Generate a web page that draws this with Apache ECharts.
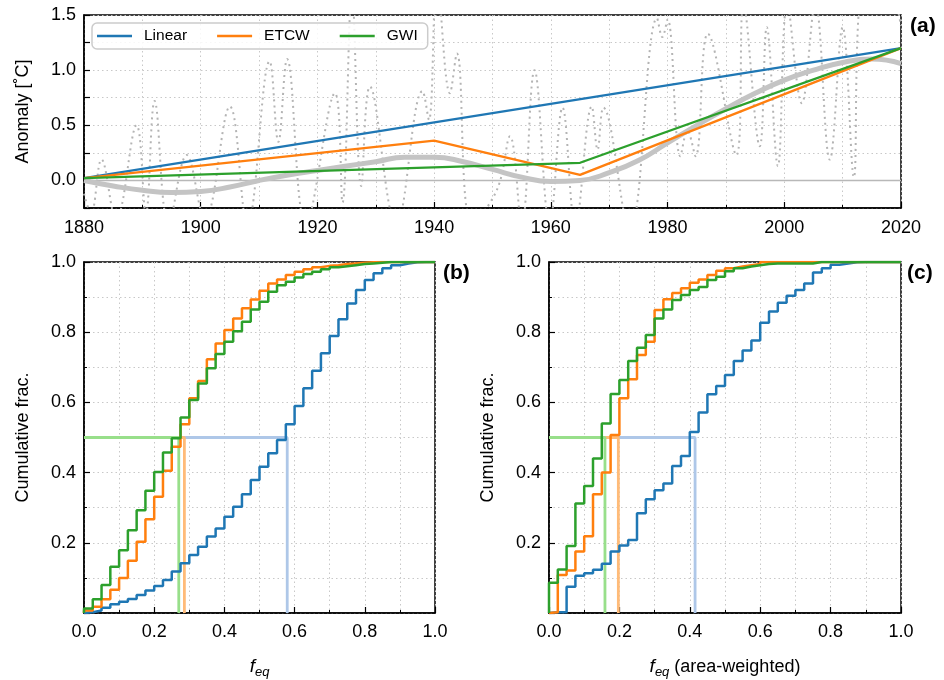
<!DOCTYPE html>
<html>
<head>
<meta charset="utf-8">
<script src="https://cdn.jsdelivr.net/npm/echarts@6/dist/echarts.min.js"></script>
<style>
  html, body { margin: 0; padding: 0; background: #fff; }
  #chart { width: 944px; height: 680px; }
</style>
</head>
<body>
<div id="chart"></div>
<script>
// ---- panel (a): anomaly time series ----
var linearYears = [1880, 2020]
var linearVals = [0.02, 1.2]
var etcwYears = [1880, 1940, 1965, 2020]
var etcwVals = [0.02, 0.36, 0.05, 1.2]
var gwiYears = [1880, 1965, 2020]
var gwiVals = [0.02, 0.16, 1.2]

// thick grey smoothed curve
var smoothYears = [1880, 1885, 1890, 1895, 1900, 1905, 1910, 1915, 1920, 1925, 1930, 1935, 1940, 1945, 1950,
  1955, 1960, 1965, 1970, 1975, 1980, 1985, 1990, 1995, 2000, 2005, 2010, 2015, 2020]
var smoothVals = [0.0, -0.05, -0.09, -0.11, -0.1, -0.06, 0.0, 0.05, 0.09, 0.13, 0.17, 0.21, 0.21, 0.17, 0.1,
  0.03, -0.01, 0.0, 0.07, 0.18, 0.34, 0.5, 0.65, 0.79, 0.91, 1.0, 1.07, 1.1, 1.06]

// dotted grey oscillating series (peaks and troughs)
var obsYears = [1880, 1881.2, 1883.0, 1885.5, 1889.0, 1890.6, 1892.1, 1894.5, 1897.6, 1900.7,
  1905.0, 1908.0, 1911.8, 1913.3, 1914.8, 1918.0, 1923.0, 1924.3, 1925.9, 1927.5,
  1929.0, 1933.5, 1938.0, 1939.1, 1940.5, 1942.7, 1943.9, 1946.5, 1950.8, 1953.0,
  1955.0, 1957.2, 1959.8, 1962.0, 1964.2, 1967.0, 1968.0, 1969.0, 1973.5, 1978.2,
  1979.1, 1980.0, 1982.2, 1983.4, 1984.8, 1986.9, 1991.8, 1993.0, 1995.8, 1997.0,
  1998.9, 2000.5, 2003.0, 2005.3, 2007.8, 2010.0, 2011.9, 2013.0, 2017.0, 2020.0]
var obsVals = [-0.12, -0.3, 0.19, -0.35, 0.5, -0.3, 0.72, -0.4, 0.23, -0.35,
  0.67, -0.4, 1.08, 0.35, 1.1, -0.4, 0.79, -0.2, 1.7, -0.05,
  0.85, -0.4, 0.81, 0.55, 1.8, 0.79, 1.15, -0.4, -0.08, 0.4,
  -0.4, 1.0, -0.4, 0.66, -0.4, 0.67, 0.28, 0.66, -0.45, 1.47,
  1.3, 1.46, 0.22, 0.45, 0.22, 1.33, 0.23, 1.6, 0.31, 1.39,
  0.13, 1.6, 0.7, 1.6, 0.19, 1.39, 0.03, 1.7, 1.8, 1.4]

// ---- panels (b) and (c): cumulative histograms, bins of 0.025 ----
var binEdges = [0, 0.025, 0.05, 0.075, 0.1, 0.125, 0.15, 0.175, 0.2, 0.225,
  0.25, 0.275, 0.3, 0.325, 0.35, 0.375, 0.4, 0.425, 0.45, 0.475,
  0.5, 0.525, 0.55, 0.575, 0.6, 0.625, 0.65, 0.675, 0.7, 0.725,
  0.75, 0.775, 0.8, 0.825, 0.85, 0.875, 0.9, 0.925, 0.95, 0.975, 1.0]

var cdfB_linear = [0.002, 0.007, 0.015, 0.025, 0.032, 0.04, 0.051, 0.064, 0.077, 0.094,
  0.118, 0.142, 0.165, 0.189, 0.218, 0.241, 0.274, 0.303, 0.338, 0.379,
  0.417, 0.455, 0.493, 0.538, 0.59, 0.64, 0.69, 0.74, 0.789, 0.837,
  0.882, 0.92, 0.949, 0.968, 0.982, 0.991, 0.996, 0.999, 1.0, 1.0]
var cdfB_etcw = [0.007, 0.018, 0.039, 0.066, 0.1, 0.149, 0.203, 0.267, 0.331, 0.405,
  0.474, 0.538, 0.612, 0.661, 0.723, 0.768, 0.806, 0.839, 0.868, 0.893,
  0.918, 0.939, 0.95, 0.963, 0.972, 0.979, 0.985, 0.989, 0.991, 0.994,
  0.996, 0.998, 0.999, 1.0, 1.0, 1.0, 1.0, 1.0, 1.0, 1.0]
var cdfB_gwi = [0.013, 0.039, 0.08, 0.132, 0.179, 0.236, 0.293, 0.348, 0.402, 0.457,
  0.498, 0.557, 0.607, 0.654, 0.697, 0.738, 0.773, 0.803, 0.83, 0.865,
  0.887, 0.915, 0.934, 0.944, 0.956, 0.966, 0.972, 0.979, 0.985, 0.988,
  0.991, 0.994, 0.996, 0.998, 1.0, 1.0, 1.0, 1.0, 1.0, 1.0]

var cdfC_linear = [0.002, 0.002, 0.075, 0.106, 0.113, 0.123, 0.14, 0.175, 0.192, 0.208,
  0.284, 0.324, 0.35, 0.369, 0.419, 0.447, 0.516, 0.571, 0.623, 0.647,
  0.678, 0.718, 0.748, 0.776, 0.827, 0.859, 0.884, 0.904, 0.92, 0.939,
  0.97, 0.982, 0.992, 0.996, 0.999, 1.0, 1.0, 1.0, 1.0, 1.0]
var cdfC_etcw = [0.002, 0.108, 0.121, 0.175, 0.219, 0.338, 0.4, 0.507, 0.612, 0.666,
  0.735, 0.773, 0.863, 0.894, 0.912, 0.925, 0.941, 0.95, 0.963, 0.975,
  0.982, 0.987, 0.991, 0.994, 1.0, 1.0, 1.0, 1.0, 1.0, 1.0,
  1.0, 1.0, 1.0, 1.0, 1.0, 1.0, 1.0, 1.0, 1.0, 1.0]
var cdfC_gwi = [0.086, 0.124, 0.191, 0.312, 0.362, 0.44, 0.54, 0.624, 0.664, 0.718,
  0.756, 0.792, 0.839, 0.865, 0.892, 0.906, 0.92, 0.929, 0.949, 0.958,
  0.974, 0.982, 0.987, 0.991, 0.994, 0.996, 0.996, 0.996, 0.996, 0.996,
  1.0, 1.0, 1.0, 1.0, 1.0, 1.0, 1.0, 1.0, 1.0, 1.0]

// medians (Linear, ETCW, GWI)
var medianB = [0.579, 0.286, 0.27]
var medianC = [0.415, 0.197, 0.159]

var seriesNames = ['Linear', 'ETCW', 'GWI']
var colors = ['#1f77b4', '#ff7f0e', '#2ca02c']
var lightColors = ['#aec7e8', '#ffbb78', '#98df8a']

var FONT = 'Liberation Sans, Arial, Helvetica, sans-serif'
var FS = 18

function pairs(xs, ys) {
  var out = []
  for (var i = 0; i < xs.length && i < ys.length; i++) out.push([xs[i], ys[i]])
  return out
}

function stepData(cdf) {
  var out = [[0, 0]]
  for (var i = 0; i < cdf.length; i++) out.push([binEdges[i], cdf[i]])
  out.push([binEdges[binEdges.length - 1], cdf[cdf.length - 1]])
  return out
}

var gridLine = { show: true, lineStyle: { color: '#c8c8c8', width: 1, type: [1.5, 3] } }

function valueAxis(o) {
  return {
    type: 'value',
    gridIndex: o.grid,
    min: o.min,
    max: o.max,
    interval: o.interval,
    position: o.position,
    axisLine: { show: true, onZero: false, lineStyle: { color: '#000', width: 1.5 } },
    axisTick: { show: true, inside: true, length: 6, lineStyle: { color: '#000', width: 1.2 } },
    minorTick: { show: !!o.minor, splitNumber: o.minor || 5, length: 3, lineStyle: { color: '#000', width: 1 } },
    splitLine: gridLine,
    minorSplitLine: { show: !!o.minor, lineStyle: { color: '#c8c8c8', width: 1, type: [1.5, 3] } },
    axisLabel: {
      color: '#000', fontSize: FS, fontFamily: FONT, margin: o.margin,
      formatter: o.formatter
    },
    name: o.name,
    nameLocation: 'middle',
    nameGap: o.nameGap,
    nameTextStyle: o.nameStyle || { color: '#000', fontSize: FS, fontFamily: FONT }
  }
}

var fmt1 = function (v) { return v.toFixed(1) }
var fmtNoZero = function (v) { return v === 0 ? '' : v.toFixed(1) }

var option = {
  animation: false,
  backgroundColor: '#fff',
  textStyle: { fontFamily: FONT },
  grid: [
    { left: 84, top: 15, width: 817, height: 193, show: true, borderColor: '#000', borderWidth: 1.5, outerBoundsMode: 'none' },
    { left: 84, top: 262, width: 351, height: 351, show: true, borderColor: '#000', borderWidth: 1.5, outerBoundsMode: 'none' },
    { left: 549, top: 262, width: 352, height: 351, show: true, borderColor: '#000', borderWidth: 1.5, outerBoundsMode: 'none' }
  ],
  legend: {
    left: 92, top: 23,
    padding: [5, 10, 5, 5],
    itemWidth: 35, itemHeight: 2.5, itemGap: 30,
    borderColor: '#cccccc', borderWidth: 1.5, borderRadius: 5,
    backgroundColor: 'rgba(255,255,255,0.85)',
    textStyle: { color: '#000', fontSize: 15.5, fontFamily: FONT, padding: [0, 0, 0, 7] },
    data: seriesNames.map(function (n) { return { name: n, icon: 'rect' } }),
    selectedMode: false
  },
  xAxis: [
    valueAxis({ grid: 0, min: 1880, max: 2020, interval: 20, minor: 2, position: 'bottom', margin: 11,
      formatter: function (v) { return String(v) } }),
    valueAxis({ grid: 1, min: 0, max: 1, interval: 0.2, minor: 2, position: 'bottom', margin: 10,
      formatter: fmt1,
      name: '{i|f}{s|eq}', nameGap: 42,
      nameStyle: { color: '#000', fontFamily: FONT, rich: {
        i: { fontSize: 19, fontStyle: 'italic', fontFamily: FONT, color: '#000' },
        s: { fontSize: 13, fontStyle: 'italic', fontFamily: FONT, color: '#000', padding: [11, 0, 0, 0] }
      } } }),
    valueAxis({ grid: 2, min: 0, max: 1, interval: 0.2, minor: 2, position: 'bottom', margin: 10,
      formatter: fmt1,
      name: '{i|f}{s|eq}{n| (area-weighted)}', nameGap: 42,
      nameStyle: { color: '#000', fontFamily: FONT, rich: {
        i: { fontSize: 19, fontStyle: 'italic', fontFamily: FONT, color: '#000' },
        s: { fontSize: 13, fontStyle: 'italic', fontFamily: FONT, color: '#000', padding: [11, 0, 0, 0] },
        n: { fontSize: FS, fontFamily: FONT, color: '#000' }
      } } })
  ],
  yAxis: [
    valueAxis({ grid: 0, min: -0.25, max: 1.5, interval: 0.25, position: 'left', margin: 8,
      formatter: function (v) {
        var h = v * 2
        return (v >= 0 && Math.abs(h - Math.round(h)) < 1e-6) ? v.toFixed(1) : ''
      },
      name: 'Anomaly [˚C]', nameGap: 52 }),
    valueAxis({ grid: 1, min: 0, max: 1, interval: 0.2, minor: 2, position: 'left', margin: 8,
      formatter: fmtNoZero, name: 'Cumulative frac.', nameGap: 52 }),
    valueAxis({ grid: 2, min: 0, max: 1, interval: 0.2, minor: 2, position: 'left', margin: 8,
      formatter: fmtNoZero, name: 'Cumulative frac.', nameGap: 52 })
  ],
  graphic: [
    { type: 'text', left: 910, top: 16, style: { text: '(a)', font: 'bold 21px ' + FONT, fill: '#000' } },
    { type: 'text', left: 443, top: 263, style: { text: '(b)', font: 'bold 21px ' + FONT, fill: '#000' } },
    { type: 'text', left: 907, top: 263, style: { text: '(c)', font: 'bold 21px ' + FONT, fill: '#000' } }
  ],
  series: []
}

function line(name, xi, data, color, width, extra) {
  var s = {
    name: name, type: 'line', xAxisIndex: xi, yAxisIndex: xi,
    data: data, showSymbol: false, symbol: 'none', silent: true,
    lineStyle: { color: color, width: width },
    itemStyle: { color: color },
    emphasis: { disabled: true }
  }
  for (var k in extra) s[k] = extra[k]
  return s
}

// panel (a)
option.series.push(line('zero', 0, [[1880, 0], [2020, 0]], '#b8b8b8', 1.5, { z: 1 }))
var obs = line('obs', 0, pairs(obsYears, obsVals), '#b4b4b4', 2, { smooth: 0.4, z: 1 })
obs.lineStyle.type = [2, 4]
option.series.push(obs)
option.series.push(line('smooth', 0, pairs(smoothYears, smoothVals), '#c4c4c4', 5, { smooth: 0.5, z: 2 }))
option.series.push(line('Linear', 0, pairs(linearYears, linearVals), colors[0], 2.3, { z: 3 }))
option.series.push(line('ETCW', 0, pairs(etcwYears, etcwVals), colors[1], 2.3, { z: 3 }))
option.series.push(line('GWI', 0, pairs(gwiYears, gwiVals), colors[2], 2.3, { z: 3 }))

// panels (b) and (c)
var cdfs = [[cdfB_linear, cdfB_etcw, cdfB_gwi], [cdfC_linear, cdfC_etcw, cdfC_gwi]]
var medians = [medianB, medianC]
for (var p = 0; p < 2; p++) {
  for (var j = 0; j < 3; j++) {
    var m = medians[p][j]
    option.series.push(line(seriesNames[j] + ' median', p + 1, [[0, 0.5], [m, 0.5], [m, 0]], lightColors[j], 2.8, { z: 2 }))
  }
  for (var j2 = 0; j2 < 3; j2++) {
    option.series.push(line(seriesNames[j2], p + 1, stepData(cdfs[p][j2]), colors[j2], 2.5, { step: 'end', z: 3 }))
  }
}

var chart = echarts.init(document.getElementById('chart'), null, { renderer: 'canvas' })
chart.setOption(option)
</script>
</body>
</html>
